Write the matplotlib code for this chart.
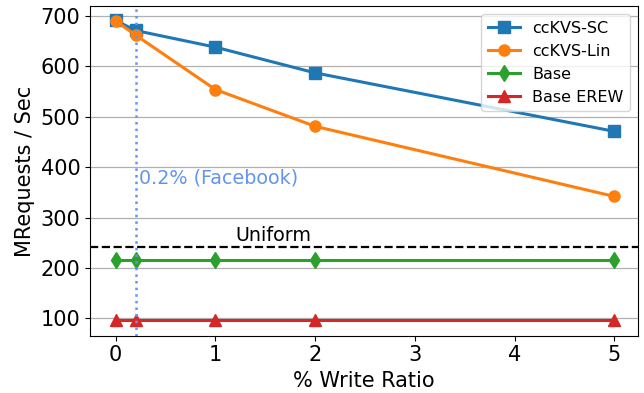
import matplotlib

matplotlib.use("Agg")
import matplotlib.pyplot as plt

# write ratio (%) on x, throughput (MReq/s) on y
write_ratio = [0, 0.2, 1, 2, 5]
cckvs_sc = [691, 671, 638, 587, 471]
cckvs_lin = [690, 662, 554, 481, 342]
base = [216, 216, 216, 216, 216]
base_erew = [97, 97, 97, 97, 97]
uniform = 242
facebook_ratio = 0.2

fig, ax = plt.subplots(figsize=(6.44, 3.93), dpi=100)

ax.plot(write_ratio, cckvs_sc, marker="s", markersize=8, lw=2.2, color="tab:blue", label="ccKVS-SC")
ax.plot(write_ratio, cckvs_lin, marker="o", markersize=8, lw=2.2, color="tab:orange", label="ccKVS-Lin")
ax.plot(write_ratio, base, marker="d", markersize=8, lw=2.2, color="tab:green", label="Base")
ax.plot(write_ratio, base_erew, marker="^", markersize=8, lw=2.2, color="tab:red", label="Base EREW")

ax.axhline(uniform, color="black", ls="--", lw=1.6)
ax.text(1.2, uniform + 3, "Uniform", fontsize=13.8, va="bottom")

ax.axvline(facebook_ratio, color="cornflowerblue", ls=":", lw=1.8)
ax.text(facebook_ratio + 0.03, 378, "0.2% (Facebook)", color="cornflowerblue", fontsize=13.8, va="center")

ax.set_xlim(-0.255, 5.24)
ax.set_ylim(66, 719)
ax.set_yticks([100, 200, 300, 400, 500, 600, 700])
ax.yaxis.grid(True, color="#b0b0b0", lw=0.9)
ax.set_axisbelow(True)
ax.tick_params(labelsize=15)
ax.set_xlabel("% Write Ratio", fontsize=15)
ax.set_ylabel("MRequests / Sec", fontsize=15)
ax.legend(loc="upper right", fontsize=11.5)

plt.subplots_adjust(left=0.14, right=0.991, top=0.984, bottom=0.146)
plt.savefig("out.png")
